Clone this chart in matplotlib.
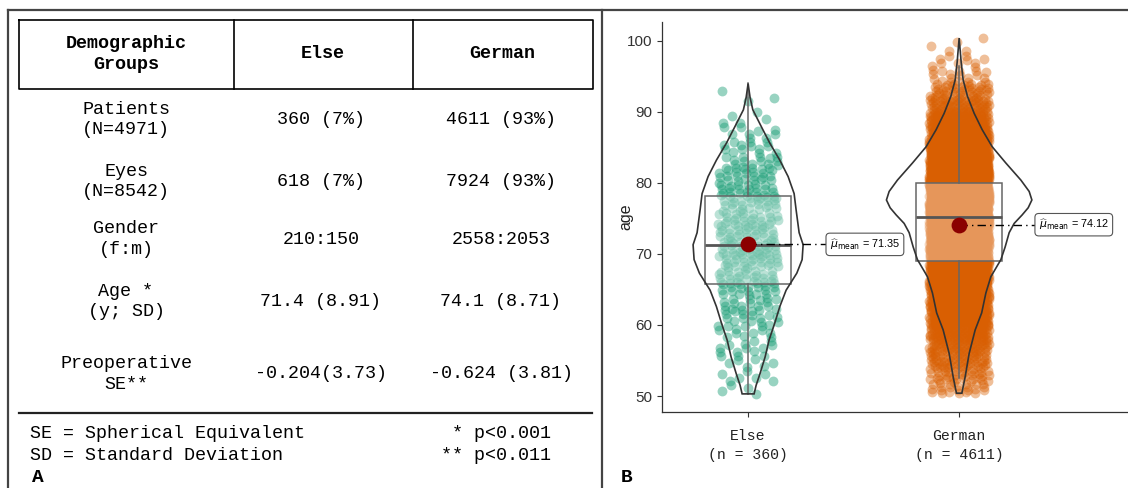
import numpy as np
import matplotlib.pyplot as plt

# ---- table data (panel A) ----
col_headers = ['Demographic\nGroups', 'Else', 'German']
row_labels = ['Patients\n(N=4971)', 'Eyes\n(N=8542)', 'Gender\n(f:m)',
              'Age *\n(y; SD)', 'Preoperative\nSE**']
else_values = ['360 (7%)', '618 (7%)', '210:150', '71.4 (8.91)', '-0.204(3.73)']
german_values = ['4611 (93%)', '7924 (93%)', '2558:2053', '74.1 (8.71)', '-0.624 (3.81)']
notes_left = ['SE = Spherical Equivalent', 'SD = Standard Deviation']
notes_right = ['* p<0.001', '** p<0.011']

# ---- plot data (panel B) ----
groups = ['Else', 'German']
group_n = [360, 4611]
else_edges = [50.3, 52, 54, 56, 58, 60, 62, 64, 66, 68, 70, 72, 74, 76, 78,
              80, 82, 84, 86, 88, 90, 92, 94]
else_counts = [4, 7, 9, 11, 13, 15, 18, 21, 26, 30, 30, 28, 27, 26, 25, 22,
               18, 13, 9, 5, 2, 1]
german_edges = [50.4, 52, 54, 56, 58, 60, 62, 64, 66, 68, 70, 72, 74, 76, 78,
                80, 82, 84, 86, 88, 90, 92, 94, 96, 98, 100.5]
german_counts = [23, 40, 60, 80, 107, 140, 160, 181, 214, 274, 308, 334, 415,
                 496, 448, 381, 301, 221, 160, 114, 74, 47, 18, 10, 5]
# violin outline: age vs relative density (half width)
else_vio_age = [50.3, 51.5, 53.2, 55.5, 57.9, 60.3, 62.6, 64.9, 67.3, 69.2,
                71.3, 73.0, 76.2, 78.5, 80.9, 83.2, 85.6, 87.9, 90.3, 92.0, 94.0]
else_vio_dens = [6, 8, 12, 17, 21, 26.7, 31.7, 38, 48.7, 54, 55, 51, 48, 46,
                 40, 31.7, 21.7, 13.3, 4.7, 2, 0]
german_vio_age = [50.4, 52.7, 56.0, 59.3, 61.7, 64.5, 66.8, 69.2, 71.0, 73.0,
                  74.3, 75.5, 76.5, 77.6, 78.8, 80.4, 82.8, 85.1, 87.5, 89.8,
                  92.2, 94.5, 97.0, 100.4]
german_vio_dens = [2.7, 6, 10, 16, 22.5, 26.7, 31.7, 41.7, 46, 50, 55, 63, 69,
                   72.7, 70, 61.7, 46.7, 33, 23, 15, 8.3, 4, 2, 0]
# boxplot stats
box_q1 = [65.8, 69.05]
box_med = [71.3, 75.2]
box_q3 = [78.2, 80.0]
whisk_lo = [50.3, 52.6]
whisk_hi = [94.0, 96.5]
group_means = [71.35, 74.12]

point_colors = ['#1B9E77', '#D95F02']
mono = 'Liberation Mono'
sans = 'Liberation Sans'

fig = plt.figure(figsize=(11.28, 4.88), dpi=100)

# ---- panel A: table drawn in pixel coordinates ----
ax0 = fig.add_axes([0, 0, 1, 1])
ax0.set_xlim(0, 1128)
ax0.set_ylim(488, 0)
ax0.axis('off')

# outer frame
ax0.plot([8, 1128], [9.5, 9.5], color='#444444', lw=1.6)
ax0.plot([8, 8], [9.5, 488], color='#444444', lw=1.6)
ax0.plot([602, 602], [9.5, 488], color='#444444', lw=1.6)

# header box
hx = [18.5, 234, 413, 592.5]
ax0.plot([hx[0], hx[-1], hx[-1], hx[0], hx[0]], [20, 20, 88.5, 88.5, 20],
         color='black', lw=1.2)
for xv in hx[1:-1]:
    ax0.plot([xv, xv], [20, 88.5], color='black', lw=1.2)
col_centers = [126, 323, 502]
for cx, txt in zip(col_centers, col_headers):
    ax0.text(cx, 54, txt, ha='center', va='center', family=mono,
             fontweight='bold', fontsize=13.2, linespacing=1.25)

row_y = [119.5, 181.5, 239, 301.7, 374]
for ry, lab, ev, gv in zip(row_y, row_labels, else_values, german_values):
    ax0.text(col_centers[0], ry, lab, ha='center', va='center', family=mono,
             fontsize=13.2, linespacing=1.25)
    ax0.text(321, ry, ev, ha='center', va='center', family=mono, fontsize=13.2)
    ax0.text(501, ry, gv, ha='center', va='center', family=mono, fontsize=13.2)

ax0.plot([19, 592], [412.5, 412.5], color='#222222', lw=1.6)
for ny, nl, nr in zip([433, 456], notes_left, notes_right):
    ax0.text(30, ny, nl, ha='left', va='center', family=mono, fontsize=13.2)
    ax0.text(551, ny, nr, ha='right', va='center', family=mono, fontsize=13.2)

ax0.text(32, 477, 'A', ha='left', va='center', family=mono,
         fontweight='bold', fontsize=14)
ax0.text(621, 477, 'B', ha='left', va='center', family=mono,
         fontweight='bold', fontsize=14)
# y axis title of panel B
ax0.text(626, 217, 'age', rotation=90, ha='center', va='center',
         family=sans, fontsize=11.5, color='#222222')

# ---- panel B: violin + box + jitter ----
ax = fig.add_axes([662 / 1128, 1 - 412 / 488, 1 - 662 / 1128, (412 - 21.7) / 488])
ax.set_facecolor('none')
px_per_unit = 211.0
spread = 30 / px_per_unit

idx = 0
for gi, (edges, counts) in enumerate([(else_edges, else_counts),
                                      (german_edges, german_counts)]):
    xs, ys = [], []
    for lo, hi, n in zip(edges[:-1], edges[1:], counts):
        k = np.arange(idx, idx + n)
        idx += n
        ys.append(lo + (hi - lo) * ((k * 0.7548776662 + 0.5) % 1))
        xs.append(gi + 1 + spread * (2 * ((k * 0.5698402910 + 0.5) % 1) - 1))
    ax.scatter(np.concatenate(xs), np.concatenate(ys), s=50, lw=0,
               color=point_colors[gi], alpha=0.45 if gi == 0 else 0.4, zorder=1)

stats = []
for i in range(2):
    stats.append(dict(med=box_med[i], q1=box_q1[i], q3=box_q3[i],
                      whislo=whisk_lo[i], whishi=whisk_hi[i], fliers=[]))
ax.bxp(stats, positions=[1, 2], widths=0.405, patch_artist=True,
       showfliers=False, showcaps=False,
       boxprops=dict(facecolor=(1, 1, 1, 0.35), edgecolor='#666666', lw=1.1),
       whiskerprops=dict(color='#666666', lw=1.1),
       medianprops=dict(color='#555555', lw=2.0), zorder=2)

for gi, (ages, dens) in enumerate([(else_vio_age, else_vio_dens),
                                   (german_vio_age, german_vio_dens)]):
    ages = np.array(ages)
    half = np.array(dens) / px_per_unit
    xo = np.concatenate([gi + 1 - half, (gi + 1 + half)[::-1]])
    yo = np.concatenate([ages, ages[::-1]])
    ax.fill(xo, yo, facecolor='none', edgecolor='#333333', lw=1.2, zorder=3)

label_x = [1.37, 2.36]
for gi in range(2):
    m = group_means[gi]
    ax.plot([gi + 1, label_x[gi]], [m, m], color='black', lw=1.0,
            ls=(0, (6, 3, 1, 3)), zorder=4)
    ax.scatter([gi + 1], [m], s=130, color='#8B0000', zorder=5, lw=0)
    ax.text(label_x[gi] + 0.017, m, r'$\widehat{\mu}_{\mathrm{mean}}$ = %.2f' % m,
            ha='left', va='center', fontsize=7.8, family=sans, zorder=6,
            bbox=dict(boxstyle='round,pad=0.35', facecolor='white',
                      edgecolor='#555555', lw=0.8))

ax.set_xlim(0.592, 2.80)
ax.set_ylim(47.75, 102.7)
ax.set_yticks([50, 60, 70, 80, 90, 100])
ax.set_yticklabels(['50', '60', '70', '80', '90', '100'], family=sans, fontsize=11,
                   color='#333333')
ax.set_xticks([1, 2])
ax.set_xticklabels(['%s\n(n = %d)' % (g, n) for g, n in zip(groups, group_n)],
                   family=mono, fontsize=10.6, linespacing=1.45, color='#222222')
ax.tick_params(axis='both', length=3.5, color='#333333', width=0.8)
ax.tick_params(axis='x', pad=9)
for side in ['top', 'right']:
    ax.spines[side].set_visible(False)
for side in ['left', 'bottom']:
    ax.spines[side].set_color('#333333')
    ax.spines[side].set_linewidth(0.9)

fig.savefig('out.png', dpi=100)
